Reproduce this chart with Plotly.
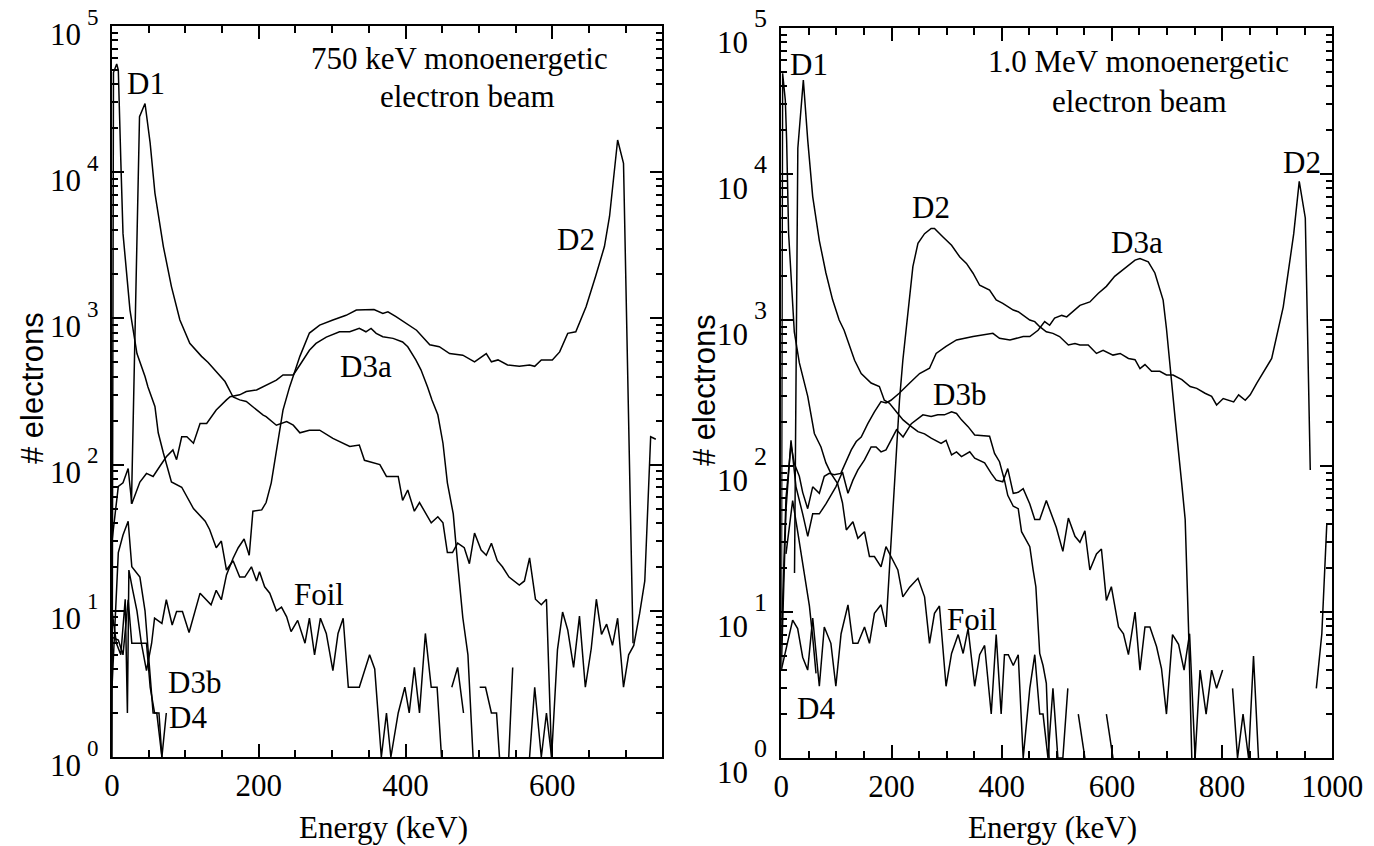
import plotly.graph_objects as go

# ---------------- Left panel: 750 keV beam ----------------
L_D1_x = [26.5, 37.5, 45, 52, 58.5, 70, 81, 92.5, 106, 122, 131, 140, 147, 154, 165, 174, 183, 197, 206, 210,
          224, 238, 247, 256, 269, 283, 301, 324, 337, 344, 365, 374, 390, 396, 403, 412, 419, 435, 444, 451,
          457, 464, 471, 480, 487, 494, 503, 510, 517, 525, 532, 541, 555, 562, 569, 577, 585, 592, 599, 607,
          614, 621, 629, 637, 645, 653, 660, 667, 674, 682, 689, 697, 704, 711, 719, 726, 734, 741]
L_D1_y = [54, 24000, 29500, 15800, 7200, 3100, 1650, 975, 675, 550, 500, 445, 410, 370, 290, 277, 270, 236, 218, 213,
          186, 197, 186, 165, 172, 172, 151, 133, 136, 107, 100, 83, 83, 57, 67, 48, 55, 40, 44, 40,
          25, 25, 29, 27, 21, 34, 26, 24, 29, 22, 20, 17, 15, 16, 23, 12, 11, 12, 1, 5.4,
          9.8, 7.4, 4.1, 9.2, 3, 5.5, 12, 6.9, 8.1, 5.8, 8.9, 3, 5, 5.8, 9.6, 16, 155, 149]

L_D1s_x = [0, 2, 6.4, 8.6, 12, 15, 24.5, 34, 45, 49, 58.5, 63, 70, 81, 95, 111, 127, 133, 142, 149,
           156, 165, 174, 181, 190, 197, 201, 208, 215, 224, 231, 238, 244, 253, 263, 269, 276, 284, 292, 301,
           308, 315, 322, 337, 351, 358, 367, 374, 380, 390, 399, 405, 412, 419, 427, 435, 443, 449, 456, 463,
           471, 479, 486, 501, 509, 517, 524, 532, 538, 546, 553, 569, 576, 585, 592, 599]
L_D1s_y = [1, 48000, 55000, 50000, 12000, 3800, 1140, 575, 400, 340, 250, 165, 120, 76, 70, 50, 41, 36, 27, 30,
           19, 22, 17, 17, 20, 16, 18.5, 14.6, 13.2, 10, 10.6, 9.1, 7.2, 8.6, 6, 8.9, 5, 8.9, 7, 3.9,
           7, 8.9, 3, 3, 5, 4, 1, 2, 1, 2, 3, 2, 4.1, 2, 7, 3, 3, 1, 0, 3,
           4.1, 2, 0, 3, 3, 2, 2, 0.5, 0.5, 4.1, 0, 1, 3, 1, 2, 1]

L_D3a_x = [0, 8.6, 15, 22, 27, 38, 47, 56, 65, 74, 83, 88, 95, 102, 111, 120, 129, 142, 156, 161,
           174, 183, 197, 210, 224, 233, 247, 256, 269, 278, 292, 310, 324, 337, 346, 353, 360, 369, 383, 396,
           403, 414, 421, 430, 436, 444, 451, 457, 465, 471, 478, 485, 492]
L_D3a_y = [30, 71, 75, 94, 54, 76, 87, 83, 97, 113, 126, 108, 155, 155, 140, 191, 191, 236, 277, 291,
           300, 316, 324, 350, 378, 410, 410, 480, 605, 675, 745, 810, 810, 855, 810, 855, 790, 750, 730, 690,
           640, 520, 445, 340, 277, 219, 140, 75, 46, 21, 9, 5, 1]

L_D2_x = [187, 192, 204, 210, 217, 222, 226, 233, 242, 247, 256, 269, 283, 301, 319, 333, 346, 357, 369, 376,
          387, 401, 415, 433, 446, 460, 478, 494, 503, 510, 517, 526, 539, 555, 569, 576, 585, 600, 610, 621,
          632, 639, 646, 659, 671, 678, 689, 697, 710]
L_D2_y = [24, 48, 49, 55, 75, 108, 147, 236, 340, 400, 550, 794, 900, 976, 1050, 1140, 1140, 1150, 1080, 1110,
          1030, 930, 830, 660, 640, 575, 560, 505, 540, 575, 505, 520, 480, 470, 480, 470, 520, 520, 590, 790,
          810, 1000, 1200, 1940, 3100, 5000, 16600, 11500, 6]

L_Foil_x = [0, 8.6, 15, 22, 27, 40, 47, 54, 58, 68, 74, 82, 88, 96, 105, 120, 135, 142, 149, 156, 165, 172, 180, 187]
L_Foil_y = [6.6, 6.3, 5, 11.9, 6, 6, 3.9, 6, 8.9, 8.2, 11.9, 8, 9.9, 9.9, 7.1, 13.2, 11, 13.8, 11.9, 17.6, 22.9, 27, 31, 24]

L_D3b_x = [0, 4, 8.6, 15, 22, 27, 38, 45, 52, 56, 61, 68]
L_D3b_y = [3, 8, 25, 33, 41, 20, 17, 10, 3.9, 2, 2, 1]

L_D4_x = [0, 6, 12, 18, 21, 23, 28, 34, 40, 47, 52, 58, 64, 68, 74]
L_D4_y = [10, 6, 5, 12, 2, 19, 14, 10, 6, 6, 3, 2, 2, 1, 2]

# ---------------- Right panel: 1.0 MeV beam ----------------
R_D1_x = [24, 30, 40, 48, 57, 69, 81, 93, 105, 114, 133, 145, 163, 178, 187, 196, 211, 221, 233, 248,
          260, 272, 290, 299, 309, 318, 327, 342, 351, 369, 381, 390, 402, 411, 421, 430, 439, 451, 460, 469,
          481, 499, 511, 521, 533, 542, 551, 560, 572, 581, 590, 599, 612, 621, 630, 642, 651, 660, 669, 681,
          690, 699, 710, 721, 731, 741, 751, 760, 771, 781, 790, 801, 810, 819, 828, 838, 848, 857, 866, 876,
          961, 971, 981, 990, 1000]
R_D1_y = [18.5, 15000, 44000, 17000, 7000, 3500, 2100, 1380, 1000, 850, 530, 430, 370, 350, 282, 270, 230, 207, 190, 172,
          166, 155, 143, 150, 119, 125, 116, 125, 113, 105, 89, 80, 78, 96, 65, 66, 70, 55, 43, 43,
          58, 38, 26, 44, 33, 30, 36, 19.4, 25, 27, 12, 14.9, 7.9, 7.1, 5.1, 10, 4, 7.9, 7.9, 5.8,
          4.1, 2, 7, 6, 4, 7.1, 1, 4, 2, 4, 3, 4, 0, 3, 1, 2, 1, 5, 1, 0,
          0, 3, 7.1, 40, 40]

R_D3a_x = [0, 8.5, 17.6, 23.6, 32.7, 38.8, 47.9, 57, 69, 78, 87, 96, 108, 118, 127, 136, 145, 157, 169, 181,
           190, 199, 214, 233, 251, 269, 281, 299, 318, 348, 384, 396, 415, 439, 451, 466, 478, 487, 496, 509,
           518, 542, 560, 575, 590, 605, 615, 630, 642, 651, 666, 678, 684, 693, 699, 705, 715, 727, 733, 739, 745]
R_D3a_y = [6, 60, 140, 104, 85, 66, 51, 72, 65, 85, 89, 87, 89, 107, 129, 147, 158, 195, 235, 276,
           270, 282, 315, 370, 430, 467, 590, 660, 730, 770, 810, 750, 730, 770, 770, 850, 975, 920, 1030, 1075,
           1050, 1260, 1330, 1520, 1700, 1990, 2140, 2390, 2570, 2640, 2500, 2100, 1780, 1370, 875, 530, 207, 74, 43, 7.9, 1]

R_D2_x = [190, 214.5, 220.6, 229.7, 238.8, 248, 260, 272, 278, 293, 309, 324, 336, 348, 360, 378, 390, 402, 421, 430,
          451, 460, 469, 481, 493, 505, 521, 533, 542, 557, 572, 584, 602, 615, 630, 642, 651, 660, 672, 687,
          699, 711, 727, 742, 754, 769, 781, 790, 802, 821, 830, 842, 851, 863, 890, 911, 920, 930, 940, 951, 960]
R_D2_y = [7.9, 282, 530, 1170, 2320, 3350, 3900, 4240, 4240, 3720, 3250, 2700, 2440, 2090, 1730, 1600, 1370, 1300, 1170, 1140,
          1000, 975, 900, 830, 810, 770, 675, 690, 675, 675, 590, 620, 575, 590, 545, 535, 465, 495, 445, 445,
          420, 420, 390, 350, 340, 315, 300, 262, 290, 275, 307, 282, 307, 370, 545, 1230, 2090, 3900, 8900, 5000, 94]

R_D3b_x = [0, 8.5, 17.6, 26.7, 38.8, 48, 57, 69, 81, 99, 111, 121, 130, 139, 151, 163, 172, 181, 190, 199,
           209, 221, 236, 257, 272, 284, 296, 309, 318, 327, 339, 351, 369, 378, 387, 396, 405, 411, 421, 430,
           436, 451, 457, 462, 469, 475, 481, 486]
R_D3b_y = [4, 50, 150, 72, 47, 33, 47, 47, 55, 72, 91, 65, 80, 94, 110, 135, 135, 125, 129, 150,
           177, 158, 195, 224, 218, 224, 224, 235, 229, 207, 186, 163, 160, 160, 122, 107, 80, 63, 53, 51,
           35.5, 28, 19.4, 14.9, 5.2, 4.3, 3.25, 1]

R_D4_x = [0, 8.5, 20.6, 29.7, 38.8, 47.9, 57, 69, 78, 90, 99, 108.5, 121, 130, 139, 151, 160, 169, 181, 190]
R_D4_y = [4, 5.5, 8.8, 7.7, 4.9, 4, 9.1, 3.1, 7.9, 6.1, 3.1, 7.1, 11.2, 6.1, 6.1, 7.9, 6.1, 9.8, 11.2, 7.9]

R_D4b_x = [8.5, 20.6, 30, 38.8, 45, 51, 57, 63]
R_D4b_y = [25, 58, 35, 21.6, 15, 11, 6.7, 3.8]

R_Foil_x = [0, 2.4, 7.3, 9.7, 13.3, 17.6, 23.6, 32.7, 48, 60, 72, 81, 90, 102, 111, 118, 130, 139, 151, 160,
            169, 181, 190, 199, 211.5, 220.6, 233, 248, 260, 269, 278, 287, 299, 309, 321, 330, 339, 351, 360, 369,
            381, 390, 399, 405, 412, 421, 430, 439, 451, 460, 469, 475, 484, 493, 502, 511, 520, 530, 539, 551,
            560, 590, 602, 612]
R_Foil_y = [5, 49000, 32000, 17000, 3900, 2000, 830, 510, 300, 167, 135, 105, 89, 76, 56, 36.5, 41.5, 32, 35.5, 24,
            24, 20.4, 28, 24, 19.4, 12.7, 14.8, 17, 12.7, 6.1, 9.8, 11, 3.1, 5.2, 7, 5.2, 7.7, 3.1, 5.1, 5.9,
            2, 7, 2, 5.1, 5.1, 4.3, 5.1, 1, 3, 5.1, 2, 2, 1, 3, 1, 1, 3, 0, 2, 1,
            0, 2, 1, 0]

# labels: (text, keV, log10(count))
L_LABELS = [("D1", 47, 4.61), ("D2", 632, 3.54), ("D3a", 346, 2.67), ("Foil", 282, 1.11),
            ("D3b", 113, 0.51), ("D4", 104, 0.27)]
R_LABELS = [("D1", 50, 4.75), ("D2", 272, 3.77), ("D3b", 324, 2.49), ("D3a", 646, 3.53),
            ("D2", 945, 4.08), ("Foil", 346, 0.95), ("D4", 63, 0.34)]
L_TITLE = ["750 keV monoenergetic", "electron beam"]
R_TITLE = ["1.0 MeV monoenergetic", "electron beam"]
Y_EXP = [0, 1, 2, 3, 4, 5]
X_TICKS_L = [0, 200, 400, 600]
X_TICKS_R = [0, 200, 400, 600, 800, 1000]

W, H = 1374, 846
SERIF = "Liberation Serif"
SANS = "Liberation Sans"
FS = 31

fig = go.Figure()

def add(xs, ys, side):
    assert len(xs) == len(ys), (len(xs), len(ys))
    yv = [v if v > 0 else None for v in ys]
    fig.add_trace(go.Scatter(x=xs, y=yv, mode="lines", line=dict(color="black", width=1.5),
                             xaxis="x" if side == "L" else "x2", yaxis="y" if side == "L" else "y2",
                             showlegend=False, hoverinfo="skip", connectgaps=False))

for xs, ys in [(L_D1_x, L_D1_y), (L_D1s_x, L_D1s_y), (L_D3a_x, L_D3a_y), (L_D2_x, L_D2_y),
               (L_Foil_x, L_Foil_y), (L_D3b_x, L_D3b_y), (L_D4_x, L_D4_y)]:
    add(xs, ys, "L")
for xs, ys in [(R_D1_x, R_D1_y), (R_D3a_x, R_D3a_y), (R_D2_x, R_D2_y), (R_D3b_x, R_D3b_y),
               (R_D4_x, R_D4_y), (R_D4b_x, R_D4b_y), (R_Foil_x, R_Foil_y)]:
    add(xs, ys, "R")

def xax(dom, rng, ticks, anchor):
    return dict(domain=dom, range=rng, tickmode="array", tickvals=ticks, ticktext=[str(t) for t in ticks],
                showline=True, linecolor="black", linewidth=2, mirror="allticks", anchor=anchor,
                ticks="inside", ticklen=13, tickwidth=1.5, tickcolor="black", automargin=False,
                minor=dict(dtick=50, tick0=0, ticks="inside", ticklen=7, tickwidth=1.5, tickcolor="black", showgrid=False),
                showgrid=False, zeroline=False, tickfont=dict(family=SERIF, size=FS, color="black"))

def yax(dom, anchor):
    return dict(domain=dom, type="log", range=[0, 5], dtick=1, showticklabels=False, automargin=False,
                showline=True, linecolor="black", linewidth=2, mirror="allticks",
                ticks="inside", ticklen=12, tickwidth=1.5, tickcolor="black",
                minor=dict(dtick="D1", ticks="inside", ticklen=6, tickwidth=1.5, tickcolor="black", showgrid=False),
                showgrid=False, zeroline=False, anchor=anchor)

ann = []
def txt(text, x, y, xref, yref, size=FS, family=SERIF, xanchor="center", yanchor="middle", yshift=0, angle=0):
    ann.append(dict(text=text, x=x, y=y, xref=xref, yref=yref, showarrow=False, xanchor=xanchor,
                    yanchor=yanchor, yshift=yshift, textangle=angle,
                    font=dict(family=family, size=size, color="black")))

for t, x, y in L_LABELS:
    txt(t, x, y, "x", "y")
for t, x, y in R_LABELS:
    txt(t, x, y, "x2", "y2")
txt(L_TITLE[0], 474, 4.78, "x", "y"); txt(L_TITLE[1], 484, 4.52, "x", "y")
txt(R_TITLE[0], 648, 4.77, "x2", "y2"); txt(R_TITLE[1], 651, 4.50, "x2", "y2")

for e in Y_EXP:
    txt("10", 83 / W, e, "paper", "y", xanchor="right", yshift=-8)
    txt(str(e), 85 / W, e, "paper", "y", size=23, xanchor="left", yshift=9)
    txt("10", 750 / W, e, "paper", "y2", xanchor="right", yshift=-14)
    txt(str(e), 752 / W, e, "paper", "y2", size=26, xanchor="left", yshift=10)

txt("Energy (keV)", 383 / W, 1 - 827 / H, "paper", "paper")
txt("Energy (keV)", 1052 / W, 1 - 827 / H, "paper", "paper")
txt("# electrons", 32 / W, 1 - 388 / H, "paper", "paper", family=SANS, angle=-90)
txt("# electrons", 704 / W, 1 - 390 / H, "paper", "paper", family=SANS, angle=-90)

fig.update_layout(
    template="none",
    width=W, height=H, margin=dict(l=0, r=0, t=0, b=0, pad=0, autoexpand=False),
    paper_bgcolor="white", plot_bgcolor="white", showlegend=False,
    xaxis=xax([112 / W, 662.4 / W], [0, 750], X_TICKS_L, "y"),
    yaxis=yax([(H - 757) / H, (H - 26) / H], "x"),
    xaxis2=xax([781.3 / W, 1332.3 / W], [0, 1000], X_TICKS_R, "y2"),
    yaxis2=yax([(H - 758) / H, (H - 28) / H], "x2"),
    annotations=ann,
)

fig.write_html("out.html")
